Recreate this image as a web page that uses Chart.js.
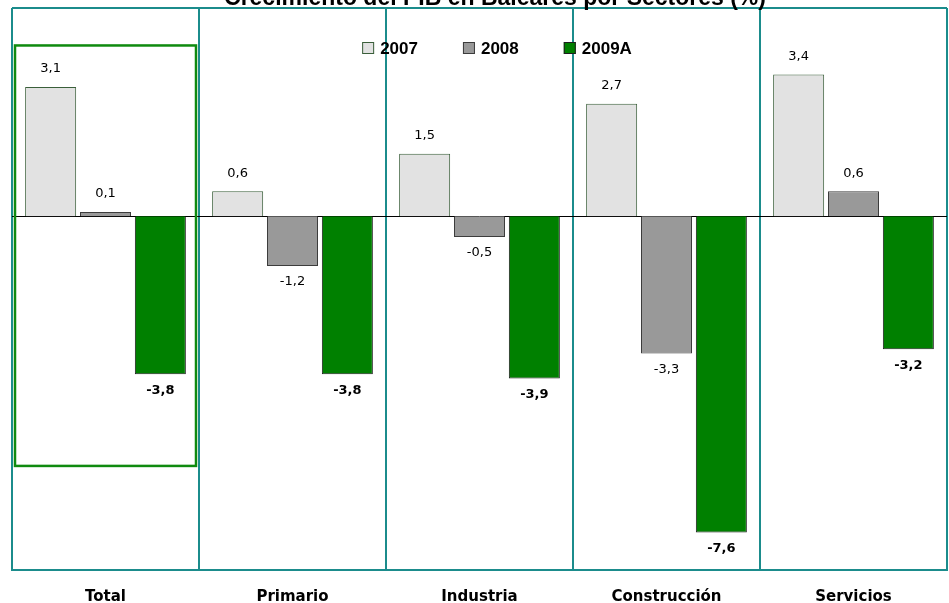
<!DOCTYPE html>
<html>
<head>
<meta charset="utf-8">
<script src="https://cdn.jsdelivr.net/npm/chart.js@4/dist/chart.umd.min.js"></script>
<style>
    body { margin: 0; background: #fff; }
    #wrap { width: 949px; height: 603px; position: relative; }
</style>
</head>
<body>
<div id="wrap"><canvas id="chart"></canvas></div>
<script>
const titleText = 'Crecimiento del PIB en Baleares por Sectores (%)';
const sectors = ['Total', 'Primario', 'Industria', 'Construcción', 'Servicios'];
const seriesNames = ['2007', '2008', '2009A'];
const values2007 = [3.1, 0.6, 1.5, 2.7, 3.4];
const values2008 = [0.1, -1.2, -0.5, -3.3, 0.6];
const values2009 = [-3.8, -3.8, -3.9, -7.6, -3.2];

const teal = '#1b8c8c';
const fmt = v => v.toFixed(1).replace('.', ',');

// title, frame, zero line, highlight box, legend and value labels
const decorations = {
    id: 'decorations',
    beforeDatasetsDraw(chart) {
        const { ctx, chartArea: a, scales: { x, y } } = chart;
        ctx.save();
        // top frame line
        ctx.strokeStyle = teal;
        ctx.lineWidth = 2;
        ctx.beginPath();
        ctx.moveTo(a.left, a.top);
        ctx.lineTo(a.right, a.top);
        ctx.stroke();
        // zero line
        const y0 = Math.round(y.getPixelForValue(0)) + 0.5;
        ctx.strokeStyle = '#000';
        ctx.lineWidth = 1;
        ctx.beginPath();
        ctx.moveTo(a.left, y0);
        ctx.lineTo(a.right, y0);
        ctx.stroke();
        ctx.restore();
    },
    afterDraw(chart) {
        const { ctx, chartArea: a, scales: { x, y } } = chart;
        ctx.save();

        // title (partly cut by the top edge, as in the original)
        ctx.fillStyle = '#000';
        ctx.font = 'bold 23px "Liberation Sans", Arial, sans-serif';
        ctx.textAlign = 'center';
        ctx.textBaseline = 'alphabetic';
        ctx.fillText(titleText, 495, 5);

        // highlight box around "Total"
        const half = (x.getPixelForValue(1) - x.getPixelForValue(0)) / 2;
        const cx = x.getPixelForValue(0);
        const top = y.getPixelForValue(4.1);
        const bottom = y.getPixelForValue(-6.0);
        ctx.strokeStyle = '#0f8a0f';
        ctx.lineWidth = 2.5;
        ctx.strokeRect(cx - half + 3, top, 2 * half - 6, bottom - top);

        // value labels
        chart.data.datasets.forEach((ds, i) => {
            const meta = chart.getDatasetMeta(i);
            ctx.font = (i === 2 ? 'bold ' : '') + '13px "DejaVu Sans", Verdana, sans-serif';
            ctx.fillStyle = '#000';
            ctx.textAlign = 'center';
            ctx.textBaseline = 'middle';
            meta.data.forEach((bar, j) => {
                const v = ds.data[j];
                const ly = v >= 0 ? bar.y - 18 : bar.y + 16;
                ctx.fillText(fmt(v), bar.x, ly);
            });
        });

        // legend
        ctx.font = 'bold 17px "Liberation Sans", Arial, sans-serif';
        const box = 12, gap = 6, spacing = 45;
        const widths = chart.data.datasets.map(ds => ctx.measureText(ds.label).width);
        const total = widths.reduce((s, w) => s + box + gap + w, 0) + spacing * (widths.length - 1);
        let lx = 497 - total / 2;
        const ly = 48;
        chart.data.datasets.forEach((ds, i) => {
            ctx.fillStyle = ds.backgroundColor;
            ctx.fillRect(lx, ly - box / 2, box, box);
            ctx.strokeStyle = ds.borderColor;
            ctx.lineWidth = 1;
            ctx.strokeRect(lx + 0.5, ly - box / 2 + 0.5, box - 1, box - 1);
            ctx.fillStyle = '#000';
            ctx.textAlign = 'left';
            ctx.textBaseline = 'middle';
            ctx.fillText(ds.label, lx + box + gap, ly + 1);
            lx += box + gap + widths[i] + spacing;
        });
        ctx.restore();
    }
};

new Chart(document.getElementById('chart'), {
    type: 'bar',
    data: {
        labels: sectors,
        datasets: [
            { label: seriesNames[0], data: values2007, backgroundColor: '#e2e2e2', borderColor: '#3a5f3a', borderWidth: 1 },
            { label: seriesNames[1], data: values2008, backgroundColor: '#999999', borderColor: '#3c3c3c', borderWidth: 1 },
            { label: seriesNames[2], data: values2009, backgroundColor: '#008000', borderColor: '#1e1e1e', borderWidth: 1 }
        ]
    },
    options: {
        responsive: true,
        maintainAspectRatio: false,
        animation: false,
        layout: { padding: { left: 12, right: 2, top: 8, bottom: -22 } },
        datasets: { bar: { categoryPercentage: 0.88, barPercentage: 0.93 } },
        plugins: {
            legend: { display: false },
            title: { display: false },
            tooltip: { enabled: false }
        },
        scales: {
            x: {
                grid: { offset: true, color: teal, lineWidth: 2, drawTicks: false },
                border: { color: teal, width: 2 },
                ticks: {
                    color: '#000',
                    padding: 20,
                    font: { family: '"DejaVu Sans", Verdana, sans-serif', size: 15, weight: 'bold', lineHeight: 1 }
                }
            },
            y: {
                display: false,
                min: -8.5,
                max: 5
            }
        }
    },
    plugins: [decorations]
});
</script>
</body>
</html>
